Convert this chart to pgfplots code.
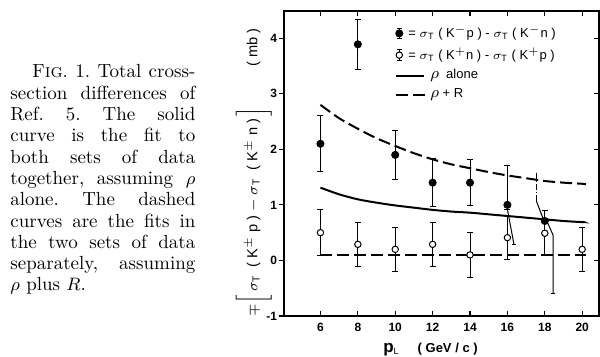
\documentclass[border=0pt]{standalone}
\usepackage{fontspec}
\setsansfont{Liberation Sans}
\usepackage{pgfplots}
\pgfplotsset{compat=1.18}
\begin{document}
\begin{tikzpicture}
\useasboundingbox (-142pt,-20.5pt) rectangle (158pt,158pt);
\node[anchor=base west, inner sep=0pt] at (-137pt,119pt) {\fontsize{9.5}{10.65}\selectfont\frenchspacing\parbox[t]{92.5pt}{%
\hspace*{11pt}F\textsc{ig}. 1. Total cross-\linebreak
section differences of\linebreak
Ref. 5. The solid\linebreak
curve is the fit to\linebreak
both sets of data\linebreak
together, assuming $\rho$\linebreak
alone. The dashed\linebreak
curves are the fits in\linebreak
the two sets of data\linebreak
separately, assuming\linebreak
$\rho$ plus $R$.}};
\begin{axis}[
  scale only axis, width=157.5pt, height=152.5pt,
  at={(0,0)}, anchor=south west,
  xmin=4.05, xmax=20.9, ymin=-1, ymax=4.49,
  xtick={6,8,...,20}, ytick={-1,0,...,4},
  tick align=inside, major tick length=2.5pt,
  ytick pos=right, yticklabel pos=left,
  extra y ticks={-1,0,1,2,3,4}, extra y tick labels={},
  extra y tick style={ytick pos=left, tick align=outside},
  axis line style={line width=0.75pt},
  every tick/.style={black, line width=0.6pt},
  /pgf/number format/assume math mode=true,
  ticklabel style={font=\sffamily\bfseries\fontsize{6}{7}\selectfont},
  xlabel={{\bfseries\fontsize{8.5}{9}\selectfont p}$_{\mathsf{L}}$\hspace{9pt}( GeV / c )},
  x label style={at={(axis description cs:0.465,-0.111)}, anchor=center, font=\sffamily\bfseries\fontsize{6.5}{7}\selectfont},
  ylabel={$\mp\Big[\,\sigma_{\mathsf T}$\ \ ( K$^{\pm}$ p )\ $-$\ $\sigma_{\mathsf T}$\ \ ( K$^{\pm}$ n )$\,\Big]$\hspace{20pt}( mb )},
  y label style={at={(axis description cs:-0.098,0.47)}, anchor=center, font=\sffamily\fontsize{7.3}{8}\selectfont},
  legend style={draw=none, fill=none, at={(axis description cs:0.352,0.965)}, anchor=north west, inner sep=0pt, row sep=-0.5pt, font=\sffamily\fontsize{6.5}{7.5}\selectfont, cells={anchor=west}},
  legend cell align=left,
  error bars/error bar style={line width=0.5pt, black},
  error bars/error mark options={rotate=90, mark size=1.5pt, line width=0.5pt, black},
]
% filled: sigma(K-p) - sigma(K-n)
\addplot[only marks, mark=*, mark size=1.8pt, black,
  error bars/.cd, y dir=both, y explicit,
  /pgfplots/legend image code/.code={
    \draw[line width=0.5pt] (1.5pt,-2.6pt)--(1.5pt,2.6pt) (0.3pt,2.6pt)--(2.7pt,2.6pt) (0.3pt,-2.6pt)--(2.7pt,-2.6pt);
    \fill (1.5pt,0pt) circle (1.8pt);
    \path[draw=none, fill=none] (0pt,0pt)--(14pt,0pt);}]
coordinates {
(6,2.10) += (0,0.50) -= (0,0.50)
(8,3.89) += (0,0.45) -= (0,0.45)
(10,1.90) += (0,0.44) -= (0,0.44)
(12,1.40) += (0,0.43) -= (0,0.43)
(14,1.40) += (0,0.42) -= (0,0.42)
(16,1.00) += (0,0.70) -= (0,0.08)
(18,0.71) += (0,0.19) -= (0,0.00)
};
\addlegendentry{\hspace*{-11pt}= $\sigma_{\mathsf T}$ ( K$^{-}$p ) - $\sigma_{\mathsf T}$ ( K$^{-}$n )}
% open: sigma(K+n) - sigma(K+p)
\addplot[only marks, mark=*, mark size=1.6pt, mark options={fill=white, draw=black, line width=0.5pt}, black,
  error bars/.cd, y dir=both, y explicit,
  /pgfplots/legend image code/.code={
    \draw[line width=0.5pt] (1.5pt,-2.6pt)--(1.5pt,2.6pt) (0.3pt,2.6pt)--(2.7pt,2.6pt) (0.3pt,-2.6pt)--(2.7pt,-2.6pt);
    \filldraw[fill=white, line width=0.5pt] (1.5pt,0pt) circle (1.6pt);
    \path[draw=none, fill=none] (0pt,0pt)--(14pt,0pt);}]
coordinates {
(6,0.50) += (0,0.41) -= (0,0.41)
(8,0.29) += (0,0.40) -= (0,0.40)
(10,0.20) += (0,0.40) -= (0,0.40)
(12,0.29) += (0,0.40) -= (0,0.40)
(14,0.10) += (0,0.40) -= (0,0.40)
(16,0.41) += (0,0.40) -= (0,0.40)
(18,0.49) += (0,0.20) -= (0,0.39)
(20,0.20) += (0,0.40) -= (0,0.40)
};
\addlegendentry{\hspace*{-11pt}= $\sigma_{\mathsf T}$ ( K$^{+}$n ) - $\sigma_{\mathsf T}$ ( K$^{+}$p )}
% rho alone
\addplot[black, line width=1pt, smooth, no marks,
  legend image code/.code={\draw[black, line width=1pt] (0pt,0pt)--(14pt,0pt);}]
coordinates {(6,1.31) (7,1.19) (8,1.10) (9,1.04) (10,0.99) (11,0.95) (12,0.91) (13,0.88) (14,0.86) (15,0.83) (16,0.80) (17,0.77) (18,0.74) (19,0.71) (20,0.69) (20.1,0.69)};
\addlegendentry{{\fontsize{8.5}{9}\selectfont$\rho$}\ \ alone}
% rho + R (upper)
\addplot[black, line width=1pt, smooth, no marks, dash pattern=on 6pt off 2.5pt,
  legend image code/.code={\draw[black, line width=1pt, dash pattern=on 6pt off 2.5pt] (0pt,0pt)--(14.5pt,0pt);}]
coordinates {(6,2.80) (7,2.56) (8,2.37) (9,2.20) (10,2.06) (11,1.93) (12,1.82) (13,1.73) (14,1.66) (15,1.59) (16,1.53) (17,1.48) (18,1.43) (19,1.40) (20,1.38) (20.2,1.37)};
\addlegendentry{{\fontsize{8.5}{9}\selectfont$\rho$}\ + R}
% rho + R (lower)
\addplot[black, line width=1pt, no marks, dash pattern=on 6pt off 2.5pt, forget plot]
coordinates {(6,0.10) (20.2,0.10)};
% hand-drawn extra error lines
\addplot[black, line width=0.5pt, no marks, forget plot] coordinates {(16,0.92) (16.35,0.29)};
\addplot[black, line width=0.5pt, no marks, forget plot] coordinates {(16.25,0.29) (16.45,0.29)};
\addplot[black, line width=0.5pt, no marks, dash pattern=on 3pt off 1pt on 0.5pt off 1pt, forget plot] coordinates {(17.55,1.58) (17.55,1.07)};
\addplot[black, line width=0.5pt, no marks, forget plot] coordinates {(17.55,1.07) (17.9,0.76)};
\addplot[black, line width=0.5pt, no marks, forget plot] coordinates {(18.15,0.68) (18.45,0.45) (18.45,-0.6)};
\addplot[black, line width=0.5pt, no marks, forget plot] coordinates {(18.35,-0.6) (18.55,-0.6)};
\end{axis}
\end{tikzpicture}
\end{document}
